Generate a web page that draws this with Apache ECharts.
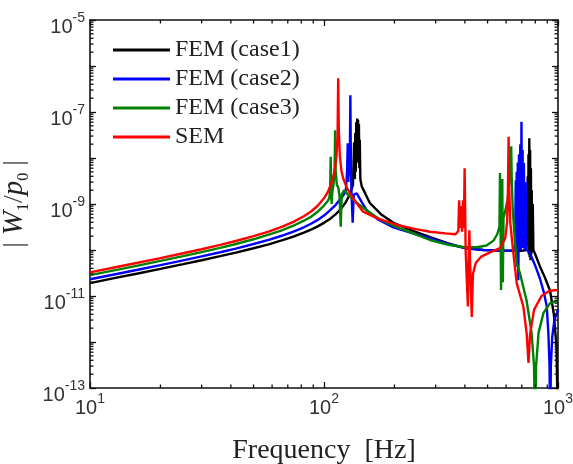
<!DOCTYPE html>
<html><head><meta charset="utf-8">
<script src="https://cdn.jsdelivr.net/npm/echarts@6/dist/echarts.min.js"></script>
<style>html,body{margin:0;padding:0;background:#fff}#c{width:573px;height:464px}</style>
</head><body><div id="c"></div>
<script>
// ---------- data ----------
const seriesNames = ['FEM (case1)', 'FEM (case2)', 'FEM (case3)', 'SEM'];
const seriesColors = ['#000000', '#0000ff', '#008000', '#ff0000'];

const case1Freq = [10,13,16,20,25,30,36,42,50,58,66,74,82,88,94,100,106,112,118,124,129,133,134.5,135.5,136,136.8,137.3,138,138.6,139.2,139.8,140.4,141,141.6,142.2,143,145,150,157,175,198,240,284,340,400,480,560,640,700,730,736,739,742,745,748,751,754,757,760,763,766,769,772,776,780,785,800,837,880,925,960,985,995,1000];
const case1Val  = [1.91e-11,2.5e-11,3.09e-11,3.89e-11,4.92e-11,5.99e-11,7.34e-11,8.79e-11,1.09e-10,1.33e-10,1.62e-10,1.96e-10,2.38e-10,2.77e-10,3.26e-10,3.89e-10,4.73e-10,5.93e-10,7.76e-10,1.1e-9,1.63e-9,2.6e-9,2.2e-8,3.5e-9,3.5e-8,5e-9,6e-8,8e-9,7.2e-8,1e-8,6.8e-8,8e-9,5.5e-8,6e-9,2.5e-8,3.5e-9,2.4e-9,1.7e-9,1.05e-9,6e-10,3.9e-10,2.6e-10,1.9e-10,1.4e-10,1.1e-10,1.0e-10,9.7e-11,9.6e-11,9.6e-11,1.0e-10,1.5e-9,1.5e-10,4e-9,1.2e-10,1.2e-8,8e-11,2.7e-8,7e-11,1.5e-8,6e-11,6e-9,8e-11,2e-9,9e-11,1e-9,1.0e-10,8e-11,4.4e-11,2.5e-11,1.3e-11,4e-12,8e-13,5e-14,1e-14];

const case2Freq = [10,13,16,20,25,30,36,42,50,58,66,74,82,88,94,100,106,112,117,121,124,125.5,126.3,127,128,128.8,129.6,130.4,131.2,132.6,134,138,145,152,170,198,240,284,340,400,480,560,630,655,660,663,666,669,673,677,681,685,690,694,698,702,706,710,715,720,727,734,759,800,837,870,895,910,920,926,932,945,965,1000];
const case2Val  = [2.31e-11,3.01e-11,3.72e-11,4.69e-11,5.95e-11,7.27e-11,8.93e-11,1.07e-10,1.35e-10,1.66e-10,2.04e-10,2.51e-10,3.12e-10,3.72e-10,4.51e-10,5.61e-10,7.24e-10,9.5e-10,1.25e-9,1.55e-9,2.0e-9,5e-9,2.1e-8,3e-9,1.6e-8,4e-9,2.3e-7,5e-9,1.5e-9,3.9e-10,1.6e-9,1.7e-9,1.1e-9,7.4e-10,4.6e-10,3.1e-10,2.3e-10,1.8e-10,1.35e-10,1.1e-10,1.0e-10,9.8e-11,9.7e-11,1.0e-10,3.3e-9,1.2e-10,5e-9,4.4e-11,8e-9,2.2e-11,1.2e-8,1.5e-10,2e-8,1e-10,6.1e-8,1.2e-10,1.5e-8,1.1e-10,7.8e-9,1e-10,3e-9,1.0e-10,8.5e-11,4.5e-11,2.4e-11,1.2e-11,6e-12,1.5e-12,3e-13,1e-14,3e-13,1.3e-12,3e-12,5e-12];

const case3Freq = [10,13,16,20,25,30,36,42,50,58,66,74,82,88,94,100,104,105.5,106.3,106.8,107.3,107.8,108.5,110,111,111.6,112.2,113.5,115,116.5,117.9,119,122,128,140,155,175,200,240,284,340,400,450,495,530,550,562,565,568,571,575,578,581,585,595,610,622,628,631,634,640,655,666,687,710,734,771,790,798,806,826,867,925,1000];
const case3Val  = [2.84e-11,3.7e-11,4.59e-11,5.79e-11,7.36e-11,9.02e-11,1.11e-10,1.35e-10,1.71e-10,2.16e-10,2.67e-10,3.37e-10,4.34e-10,5.3e-10,6.79e-10,9.23e-10,1.18e-9,1.4e-9,2.5e-9,1.07e-8,1.8e-9,1.0e-9,1.8e-9,2.8e-9,6e-9,4e-8,5e-9,2.6e-9,2.3e-9,1.5e-9,3.2e-10,1.6e-9,2.0e-9,1.5e-9,1.0e-9,6.8e-10,4.5e-10,3.3e-10,2.3e-10,1.65e-10,1.3e-10,1.15e-10,1.15e-10,1.25e-10,1.6e-10,2.2e-10,3.2e-10,4.7e-9,4e-10,1.35e-11,3e-10,3.5e-9,2e-11,5e-10,7e-10,1.3e-9,3.5e-9,1.2e-8,1.8e-8,4e-9,8e-10,1.5e-10,5.2e-11,3.2e-11,1.6e-11,8e-12,1.6e-12,3e-13,1e-14,3e-13,1.6e-12,4.3e-12,7e-12,8e-12];

const semFreq = [10,13,16,20,25,30,36,42,50,58,66,74,82,88,94,100,104,108,111,113,114.3,115,115.7,116.8,118.5,121,125,132,147,170,205,250,284,330,365,375,378,381,385,389,393,396,399,403,408,412,415,418,421,428,433,445,470,520,565,595,606,611,615,619,625,640,666,711,735,748,760,790,850,920,1000];
const semVal  = [3.26e-11,4.26e-11,5.27e-11,6.67e-11,8.49e-11,1.04e-10,1.29e-10,1.57e-10,2.0e-10,2.52e-10,3.18e-10,4.08e-10,5.4e-10,6.87e-10,9.16e-10,1.33e-9,1.85e-9,2.96e-9,5.25e-9,1.06e-8,3.05e-8,5.4e-7,4e-8,1.2e-8,5.5e-9,3.5e-9,2.3e-9,1.4e-9,6.8e-10,4.8e-10,3.5e-10,2.8e-10,2.5e-10,2.3e-10,2.2e-10,2.6e-10,1.2e-9,3e-10,9e-10,2.5e-10,1.2e-9,3e-10,6e-9,1e-10,2e-11,5.9e-12,5e-11,2.7e-10,5e-11,3.5e-12,3e-11,5.2e-11,7.2e-11,9.2e-11,1.1e-10,1.8e-10,4e-10,2e-9,2.9e-8,2e-9,4e-10,1.2e-10,1.9e-11,5.9e-12,1.5e-12,3.5e-13,1.5e-12,5e-12,1.0e-11,1.3e-11,1.35e-11];

const xRange = [10, 1000];
const yRange = [1e-13, 1e-5];
const xLabelExponents = [1, 2, 3];
const yLabelExponents = [-5, -7, -9, -11, -13];
const xAxisTitle = 'Frequency  [Hz]';

function minorTicks(lo, hi) {
  const out = [];
  for (let e = Math.round(Math.log10(lo)); e < Math.round(Math.log10(hi)); e++) {
    for (let m = 2; m <= 9; m++) out.push(m * Math.pow(10, e));
  }
  return out;
}
const xMinor = minorTicks(xRange[0], xRange[1]);
const yMinor = minorTicks(yRange[0], yRange[1]);

const allFreq = [case1Freq, case2Freq, case3Freq, semFreq];
const allVal = [case1Val, case2Val, case3Val, semVal];

// ---------- chart ----------
const chart = echarts.init(document.getElementById('c'), null, {renderer: 'canvas'});
const frameColor = '#111';
const labelRich = {
  b: {fontFamily: 'Liberation Sans', fontSize: 20, color: '#333', lineHeight: 26, verticalAlign: 'bottom'},
  s: {fontFamily: 'Liberation Sans', fontSize: 14, color: '#333', lineHeight: 14, verticalAlign: 'top'}
};
function expOf(v) { return Math.round(Math.log10(v)); }

const lineSeries = seriesNames.map((name, i) => ({
  name: name,
  type: 'line',
  xAxisIndex: 0, yAxisIndex: 0,
  data: allFreq[i].map((f, k) => [f, allVal[i][k]]),
  showSymbol: false, symbol: 'none',
  lineStyle: {color: seriesColors[i], width: 2.4},
  itemStyle: {color: seriesColors[i]},
  clip: true,
  z: 3 + i
}));

const axisLine = {show: true, lineStyle: {color: frameColor, width: 1.6}};
const axisTick = {show: true, inside: true, length: 6, lineStyle: {color: frameColor, width: 1.3}};

chart.setOption({
  animation: false,
  backgroundColor: '#ffffff',
  grid: {left: 90, right: 15, top: 20, bottom: 76, containLabel: false, outerBoundsMode: 'none'},
  legend: {
    data: seriesNames,
    orient: 'vertical',
    left: 108, top: 33,
    icon: 'rect',
    itemWidth: 57, itemHeight: 3, itemGap: 5,
    textStyle: {fontFamily: 'Liberation Serif', fontSize: 24, color: '#222', lineHeight: 24}
  },
  xAxis: [{
    type: 'log', logBase: 10, min: xRange[0], max: xRange[1], position: 'bottom',
    axisLine: axisLine, axisTick: axisTick, splitLine: {show: false},
    axisLabel: {
      margin: 4,
      formatter: function (v) {
        const e = expOf(v);
        return xLabelExponents.indexOf(e) >= 0 ? '{b|10}{s|' + e + '}' : '';
      },
      rich: labelRich
    },
    name: xAxisTitle, nameLocation: 'middle', nameGap: 49,
    nameTextStyle: {fontFamily: 'Liberation Serif', fontSize: 28, color: '#222'}
  }, {
    type: 'log', logBase: 10, min: xRange[0], max: xRange[1], position: 'top',
    axisLine: axisLine, axisTick: axisTick, splitLine: {show: false}, axisLabel: {show: false}
  }],
  yAxis: [{
    type: 'log', logBase: 10, min: yRange[0], max: yRange[1], position: 'left',
    axisLine: axisLine, axisTick: axisTick, splitLine: {show: false},
    axisLabel: {
      margin: 5,
      padding: [8, 0, 0, 0],
      formatter: function (v) {
        const e = expOf(v);
        return yLabelExponents.indexOf(e) >= 0 ? '{b|10}{s|' + e + '}' : '';
      },
      rich: labelRich
    },
    name: '{t|| }{i|W}{sb|1}{t|/}{i|p}{sb|0}{t| |}',
    nameLocation: 'middle', nameRotate: 90, nameGap: 45,
    nameTextStyle: {
      fontFamily: 'Liberation Serif', fontSize: 28, color: '#222',
      rich: {
        t: {fontFamily: 'Liberation Serif', fontSize: 28, color: '#444', lineHeight: 34, verticalAlign: 'middle'},
        i: {fontFamily: 'Liberation Serif', fontSize: 29, fontStyle: 'italic', color: '#222', lineHeight: 34, verticalAlign: 'middle'},
        sb: {fontFamily: 'Liberation Serif', fontSize: 16, color: '#222', lineHeight: 18, verticalAlign: 'bottom'}
      }
    }
  }, {
    type: 'log', logBase: 10, min: yRange[0], max: yRange[1], position: 'right',
    axisLine: axisLine, axisTick: axisTick, splitLine: {show: false}, axisLabel: {show: false}
  }],
  series: lineSeries
});

// minor ticks (MATLAB style), positioned through the chart's own axis scales
const g = [];
const tickStyle = {stroke: frameColor, lineWidth: 1.3};
xMinor.forEach(v => {
  const pb = chart.convertToPixel({xAxisIndex: 0, yAxisIndex: 0}, [v, yRange[0]]);
  const pt = chart.convertToPixel({xAxisIndex: 0, yAxisIndex: 0}, [v, yRange[1]]);
  g.push({type: 'line', silent: true, z: 50, shape: {x1: pb[0], y1: pb[1], x2: pb[0], y2: pb[1] - 3.5}, style: tickStyle});
  g.push({type: 'line', silent: true, z: 50, shape: {x1: pt[0], y1: pt[1], x2: pt[0], y2: pt[1] + 3.5}, style: tickStyle});
});
yMinor.forEach(v => {
  const pl = chart.convertToPixel({xAxisIndex: 0, yAxisIndex: 0}, [xRange[0], v]);
  const pr = chart.convertToPixel({xAxisIndex: 0, yAxisIndex: 0}, [xRange[1], v]);
  g.push({type: 'line', silent: true, z: 50, shape: {x1: pl[0], y1: pl[1], x2: pl[0] + 3.5, y2: pl[1]}, style: tickStyle});
  g.push({type: 'line', silent: true, z: 50, shape: {x1: pr[0], y1: pr[1], x2: pr[0] - 3.5, y2: pr[1]}, style: tickStyle});
});
chart.setOption({graphic: {elements: g}});
</script>
</body></html>
